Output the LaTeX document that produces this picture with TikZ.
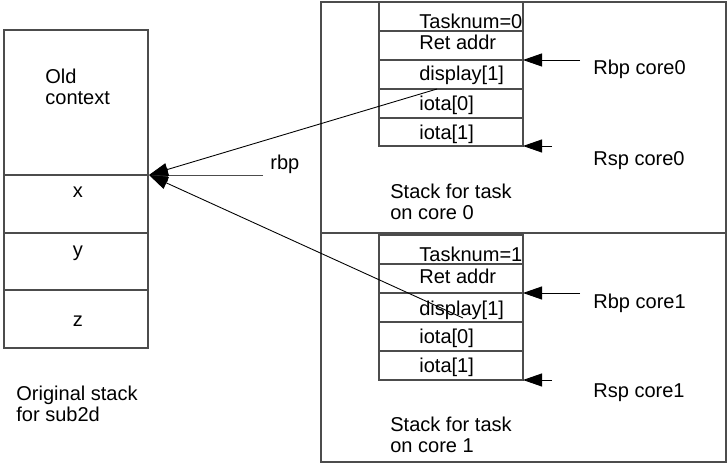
\documentclass[tikz,border=0pt]{standalone}
\usepackage{fontspec}
\setmainfont{Liberation Sans}
\usetikzlibrary{positioning, arrows.meta}
\tikzset{
  cellbox/.style={draw=black!70, line width=0.6pt},
  lbl/.style={font=\fontsize{11.4}{12.4}\selectfont, inner sep=0pt, align=left},
  ptr/.style={-{Triangle[length=3.8mm, width=2.6mm]}, line width=0.5pt},
}

\begin{document}
\begin{tikzpicture}[x=0.02cm, y=-0.02cm]
  \useasboundingbox (0,0) rectangle (727,465);
  % original stack
  \draw[cellbox] (4,30) rectangle (148,348);
  \foreach \y in {175,233,290} \draw[cellbox] (4,\y) -- (148,\y);
  \node[lbl, anchor=base west] (old) at (45,105) {Old\\context};
  \node[lbl, anchor=base] (vx) at (78,198) {x};
  \node[lbl, anchor=base] (vy) at (78,257) {y};
  \node[lbl, anchor=base] (vz) at (78,327) {z};
  \node[lbl, anchor=base west] (orig) at (16,422) {Original stack\\for sub2d};
  \coordinate (ctx) at (149,175);
  \coordinate (rbpend) at (263,175);
  \node[lbl, anchor=base west] (rbp) at (270,170) {rbp};

  % task stacks
  \draw[cellbox] (321,2) rectangle (726,233);
  \draw[cellbox] (321,233) rectangle (726,462);

  \draw[cellbox] (379,2) rectangle (523,146);
  \foreach \y in {31,60,89,118} \draw[cellbox] (379,\y) -- (523,\y);
  \node[lbl, anchor=base west] (tn0) at (419,29) {Tasknum=0};
  \node[lbl, anchor=base west] (ra0) at (419,50) {Ret addr};
  \node[lbl, anchor=base west] (dp0) at (419,81) {display[1]};
  \node[lbl, anchor=base west] (ia0) at (419,111) {iota[0]};
  \node[lbl, anchor=base west] (ib0) at (419,140) {iota[1]};
  \node[lbl, anchor=base west] (rbpc0) at (593,75) {Rbp core0};
  \node[lbl, anchor=base west] (rspc0) at (593,166) {Rsp core0};
  \node[lbl, anchor=base west] (task0) at (390,220) {Stack for task\\on core 0};

  \draw[cellbox] (379,235) rectangle (523,380);
  \foreach \y in {264,293,322,351} \draw[cellbox] (379,\y) -- (523,\y);
  \node[lbl, anchor=base west] (tn1) at (419,262) {Tasknum=1};
  \node[lbl, anchor=base west] (ra1) at (419,284) {Ret addr};
  \node[lbl, anchor=base west] (dp1) at (419,316) {display[1]};
  \node[lbl, anchor=base west] (ia1) at (419,344) {iota[0]};
  \node[lbl, anchor=base west] (ib1) at (419,373) {iota[1]};
  \node[lbl, anchor=base west] (rbpc1) at (593,309) {Rbp core1};
  \node[lbl, anchor=base west] (rspc1) at (593,398) {Rsp core1};
  \node[lbl, anchor=base west] (task1) at (390,453) {Stack for task\\on core 1};

  % pointers
  \coordinate (bp0) at (523,60);   \coordinate (bp0s) at (580,60);
  \coordinate (sp0) at (523,146);  \coordinate (sp0s) at (552,146);
  \coordinate (bp1) at (523,293);  \coordinate (bp1s) at (580,293);
  \coordinate (sp1) at (523,380);  \coordinate (sp1s) at (552,380);
  \coordinate (disp0) at (437,89);
  \coordinate (disp1) at (463,318);

  \draw[ptr] (bp0s) -- (bp0);
  \draw[ptr] (sp0s) -- (sp0);
  \draw[ptr] (bp1s) -- (bp1);
  \draw[ptr] (sp1s) -- (sp1);
  \draw[ptr, draw=black!70] (rbpend) -- (ctx);
  \draw[ptr] (disp0) -- (ctx);
  \draw[ptr] (disp1) -- (ctx);
\end{tikzpicture}
\end{document}
